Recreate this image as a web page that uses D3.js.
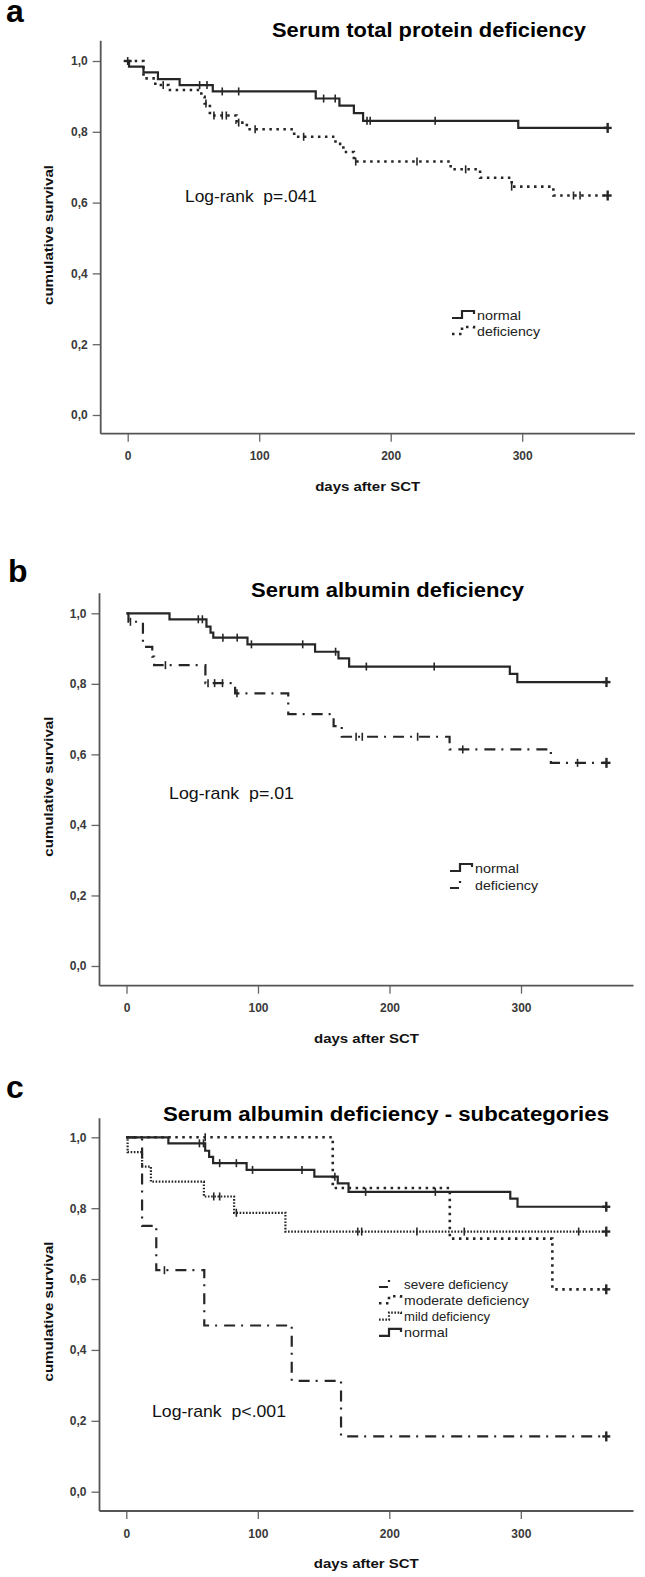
<!DOCTYPE html>
<html><head><meta charset="utf-8">
<script src="https://cdn.jsdelivr.net/npm/d3@7"></script>
<style>
html,body{margin:0;padding:0;background:#fff;}
svg{display:block;font-family:"Liberation Sans",Arial,sans-serif;}
</style></head>
<body>
<svg id="chart" width="645" height="1577"></svg>
<script>
// ---------- shared axis data ----------
const DAY_TICKS = [0, 100, 200, 300];
const SURV_TICKS = [0, 0.2, 0.4, 0.6, 0.8, 1.0];
const SURV_TICK_LABELS = ["0,0", "0,2", "0,4", "0,6", "0,8", "1,0"];
const X_TITLE = "days after SCT";
const Y_TITLE = "cumulative survival";
const END_DAY = 365;

// ---------- panel a : serum total protein ----------
const aTitle = "Serum total protein deficiency";
const aLogRank = "Log-rank  p=.041";
const aLegend = ["normal", "deficiency"];
const aNormalDays = [1, 12, 23, 39.5, 64.7, 143, 161, 172, 179, 297];
const aNormalSurv = [0.984, 0.968, 0.949, 0.932, 0.914, 0.894, 0.874, 0.853, 0.831, 0.811];
const aNormalCensored = [54.7, 60.3, 71.9, 84.4, 149, 157.8, 182, 184.4, 233.8, 365];
const aDefDays = [12, 21, 31, 56, 58.5, 62.5, 82.8, 90.6, 126.6, 158, 164, 172, 245.6, 268, 292, 323.7];
const aDefSurv = [0.951, 0.932, 0.918, 0.899, 0.880, 0.846, 0.826, 0.807, 0.786, 0.766, 0.743, 0.716, 0.694, 0.670, 0.645, 0.620];
const aDefCensored = [0, 27, 59.5, 65.6, 71.9, 75, 84.4, 96.9, 133.8, 173.4, 220, 257, 292, 339, 344, 365];

// ---------- panel b : serum albumin ----------
const bTitle = "Serum albumin deficiency";
const bLogRank = "Log-rank  p=.01";
const bLegend = ["normal", "deficiency"];
const bNormalDays = [32.7, 60.8, 63.9, 66, 92, 143.4, 161.2, 169.3, 291.5, 297.2];
const bNormalSurv = [0.983, 0.962, 0.945, 0.931, 0.912, 0.891, 0.872, 0.849, 0.828, 0.805];
const bNormalCensored = [54.6, 57.7, 73.3, 84.2, 95, 134, 159, 182.4, 234, 365];
const bDefDays = [1.5, 12.5, 19.6, 21, 60, 82.6, 123, 157.5, 163.7, 245.7, 322.7];
const bDefSurv = [0.976, 0.905, 0.877, 0.853, 0.802, 0.773, 0.714, 0.680, 0.650, 0.614, 0.576];
const bDefCensored = [3, 29.6, 62, 67, 73, 84, 174.6, 179.3, 221.4, 255.7, 343, 365];

// ---------- panel c : albumin subcategories ----------
const cTitle = "Serum albumin deficiency - subcategories";
const cLogRank = "Log-rank  p<.001";
const cLegend = ["severe deficiency", "moderate deficiency", "mild deficiency", "normal"];
const cSevDays = [12, 22.8, 59.3, 125.8, 163.3];
const cSevSurv = [0.75, 0.625, 0.469, 0.3125, 0.156];
const cSevCensored = [29, 365];
const cModDays = [157, 246, 324];
const cModSurv = [0.857, 0.714, 0.571];
const cModCensored = [60, 365];
const cMildDays = [1, 12, 18.7, 59, 82, 121];
const cMildSurv = [0.958, 0.917, 0.875, 0.833, 0.787, 0.734];
const cMildCensored = [66.5, 71, 83.7, 176, 179, 221, 257, 344, 365];
const cNormalDays = [32, 60, 63, 66, 91.5, 143, 160.8, 169, 292, 297.5];
const cNormalSurv = [0.983, 0.962, 0.945, 0.927, 0.908, 0.889, 0.870, 0.846, 0.827, 0.804];
const cNormalCensored = [55.6, 58.7, 71, 83.7, 96, 133.6, 158.6, 182, 235, 365];

// ---------- styles ----------
const INK = "#262626";
const STYLES = {
  solid:   {dash: null, width: 2.2},
  dotted:  {dash: "2.5,4.5", width: 2.6},
  fine:    {dash: "1.6,1.6", width: 2.2},
  dashdot: {dash: "11,6,2,7", width: 2.2}
};

const svg = d3.select("#chart");

function survAt(days, surv, t) {
  let s = 1;
  for (let i = 0; i < days.length; i++) if (days[i] <= t) s = surv[i];
  return s;
}

function drawPanel(p) {
  const x = d3.scaleLinear().domain([0, 300]).range([p.x0, p.x0 + 394.5]);
  const y = d3.scaleLinear().domain([0, 1]).range([p.y0, p.y1]);
  const g = svg.append("g");

  // panel letter
  g.append("text").attr("x", p.letterX).attr("y", p.letterY)
    .attr("font-size", 32).attr("font-weight", "bold").attr("fill", "#000").text(p.letter);
  // title
  g.append("text").attr("x", p.titleX).attr("y", p.titleY)
    .attr("font-size", 20).attr("font-weight", "bold").attr("fill", "#000")
    .attr("textLength", p.titleW).attr("lengthAdjust", "spacingAndGlyphs").text(p.title);

  // axes
  const yAxis = d3.axisLeft(y).tickValues(SURV_TICKS)
    .tickFormat((d, i) => SURV_TICK_LABELS[i]).tickSize(8).tickPadding(5);
  const ya = g.append("g").attr("transform", `translate(${p.axisX},0)`).call(yAxis);
  ya.select(".domain").remove();
  g.append("line").attr("x1", p.axisX).attr("x2", p.axisX)
    .attr("y1", p.axisTop).attr("y2", p.axisY).attr("stroke", "#555").attr("stroke-width", 1.8);

  const xAxis = d3.axisBottom(x).tickValues(DAY_TICKS).tickSize(8).tickPadding(10);
  const xa = g.append("g").attr("transform", `translate(0,${p.axisY})`).call(xAxis);
  xa.select(".domain").remove();
  g.append("line").attr("x1", p.axisX).attr("x2", p.axisRight)
    .attr("y1", p.axisY).attr("y2", p.axisY).attr("stroke", "#555").attr("stroke-width", 1.8);

  [ya, xa].forEach(a => {
    a.selectAll(".tick line").attr("stroke", "#666").attr("stroke-width", 1.3);
    a.selectAll(".tick text").attr("font-size", 12).attr("font-weight", "bold")
      .attr("fill", "#3a3a3a").attr("font-family", "Liberation Sans, Arial, sans-serif");
  });

  // axis titles
  g.append("text").attr("x", x(0) + 240).attr("y", p.axisY + 57)
    .attr("text-anchor", "middle").attr("font-size", 13).attr("font-weight", "bold")
    .attr("textLength", 105).attr("lengthAdjust", "spacingAndGlyphs").attr("fill", "#111").text(X_TITLE);
  const yc = (y(0) + y(1)) / 2 - 3;
  g.append("text").attr("transform", `translate(53,${yc}) rotate(-90)`)
    .attr("text-anchor", "middle").attr("font-size", 13).attr("font-weight", "bold")
    .attr("textLength", 140).attr("lengthAdjust", "spacingAndGlyphs").attr("fill", "#111").text(Y_TITLE);

  // log-rank
  g.append("text").attr("x", p.lrX).attr("y", p.lrY).attr("font-size", 17)
    .attr("fill", "#111").attr("textLength", p.lrW).attr("lengthAdjust", "spacingAndGlyphs")
    .attr("xml:space", "preserve").style("white-space", "pre").text(p.logRank);

  // curves
  const line = d3.line().x(d => x(d[0])).y(d => y(d[1])).curve(d3.curveStepAfter);
  p.series.forEach(s => {
    const st = STYLES[s.style];
    const pts = [[0, 1]];
    s.days.forEach((t, i) => pts.push([t, s.surv[i]]));
    pts.push([END_DAY, s.surv[s.surv.length - 1]]);
    g.append("path").attr("d", line(pts)).attr("fill", "none")
      .attr("stroke", INK).attr("stroke-width", st.width)
      .attr("stroke-dasharray", st.dash);
    s.cens.forEach(t => {
      const v = survAt(s.days, s.surv, t);
      const cx = x(t), cy = y(v);
      const isEnd = t >= END_DAY;
      g.append("line").attr("x1", cx).attr("x2", cx)
        .attr("y1", cy - (isEnd ? 5 : 4)).attr("y2", cy + (isEnd ? 5 : 4))
        .attr("stroke", INK).attr("stroke-width", isEnd ? 2.4 : 1.6);
      if (isEnd || t === 0) {
        g.append("line").attr("x1", cx - 4).attr("x2", cx + 4)
          .attr("y1", cy).attr("y2", cy).attr("stroke", INK).attr("stroke-width", 2.4);
      }
    });
  });

  // legend
  p.legend.forEach((lab, i) => {
    const cy = p.legY + i * p.legStep;
    const st = STYLES[p.legStyles[i]];
    const x0 = p.legX - 25;
    g.append("path")
      .attr("d", `M${x0},${cy + 3}H${x0 + 10}V${cy - 4}H${x0 + 22}V${cy - 1}`)
      .attr("fill", "none").attr("stroke", INK).attr("stroke-width", st.width)
      .attr("stroke-dasharray", st.dash ? (p.legStyles[i] === "dashdot" ? "9,6,2,20" : st.dash) : null);
    g.append("text").attr("x", p.legX).attr("y", cy + 4.5).attr("font-size", 13.5)
      .attr("fill", "#222").attr("textLength", p.legW[i]).attr("lengthAdjust", "spacingAndGlyphs").text(lab);
  });
}

drawPanel({
  letter: "a", letterX: 6, letterY: 22,
  title: aTitle, titleX: 272, titleY: 37, titleW: 314,
  x0: 127.7, y0: 415, y1: 61, axisX: 100.7, axisY: 433.7, axisTop: 40.7, axisRight: 635,
  logRank: aLogRank, lrX: 185, lrY: 202, lrW: 132,
  legend: aLegend, legStyles: ["solid", "dotted"], legX: 477, legY: 315, legStep: 16, legW: [44, 63],
  series: [
    {days: aNormalDays, surv: aNormalSurv, cens: aNormalCensored, style: "solid"},
    {days: aDefDays, surv: aDefSurv, cens: aDefCensored, style: "dotted"}
  ]
});

drawPanel({
  letter: "b", letterX: 8, letterY: 582,
  title: bTitle, titleX: 251, titleY: 597, titleW: 273,
  x0: 126.5, y0: 966, y1: 613.3, axisX: 99.5, axisY: 985.7, axisTop: 593.3, axisRight: 633.5,
  logRank: bLogRank, lrX: 169, lrY: 799, lrW: 125,
  legend: bLegend, legStyles: ["solid", "dashdot"], legX: 475, legY: 868, legStep: 17, legW: [44, 63],
  series: [
    {days: bNormalDays, surv: bNormalSurv, cens: bNormalCensored, style: "solid"},
    {days: bDefDays, surv: bDefSurv, cens: bDefCensored, style: "dashdot"}
  ]
});

drawPanel({
  letter: "c", letterX: 6, letterY: 1098,
  title: cTitle, titleX: 163, titleY: 1121, titleW: 446,
  x0: 126.3, y0: 1491.7, y1: 1137.3, axisX: 99.5, axisY: 1511, axisTop: 1118.3, axisRight: 633.5,
  logRank: cLogRank, lrX: 152, lrY: 1417, lrW: 134,
  legend: cLegend, legStyles: ["dashdot", "dotted", "fine", "solid"], legX: 404, legY: 1284, legStep: 16.3,
  legW: [104, 125, 86, 44],
  series: [
    {days: cNormalDays, surv: cNormalSurv, cens: cNormalCensored, style: "solid"},
    {days: cModDays, surv: cModSurv, cens: cModCensored, style: "dotted"},
    {days: cMildDays, surv: cMildSurv, cens: cMildCensored, style: "fine"},
    {days: cSevDays, surv: cSevSurv, cens: cSevCensored, style: "dashdot"}
  ]
});
</script>
</body></html>
